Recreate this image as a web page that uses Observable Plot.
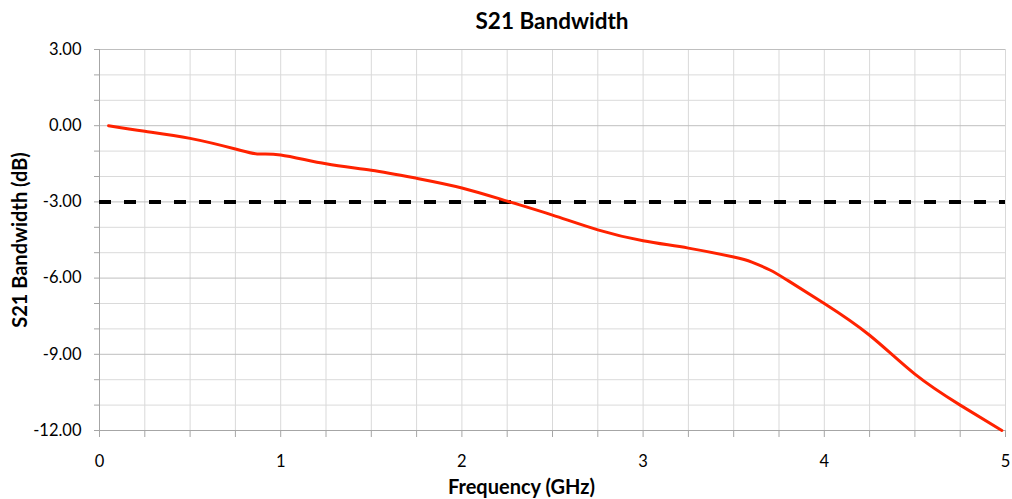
<!DOCTYPE html>
<html><head><meta charset="utf-8">
<script src="https://cdn.jsdelivr.net/npm/d3@7"></script>
<script src="https://cdn.jsdelivr.net/npm/@observablehq/plot@0.6"></script>
<style>
body{margin:0;background:#fff;font-family:Lato,"Open Sans",sans-serif;}
#title{width:1012px;height:38px;box-sizing:border-box;padding-left:92px;text-align:center;font-weight:bold;font-size:22.5px;line-height:42px;color:#000;}
</style></head>
<body>
<div id="title">S21 Bandwidth</div>
<div id="chart"></div>
<script>
// Data
const freq = [0.05, 0.25, 0.5, 0.75, 0.87, 1.0, 1.25, 1.5, 1.75, 2.0, 2.25, 2.5, 2.75, 3.0, 3.25, 3.5, 3.6, 3.7, 3.8, 4.0, 4.25, 4.5, 4.75, 4.98];
const s21 = [0, -0.22, -0.5, -0.92, -1.11, -1.15, -1.5, -1.75, -2.07, -2.45, -2.97, -3.52, -4.1, -4.53, -4.82, -5.17, -5.37, -5.68, -6.1, -7.0, -8.25, -9.78, -11.0, -12.0];
const threshold = [-3];
const yMajor = [3, 0, -3, -6, -9, -12];
const yMinor = [2, 1, -1, -2, -4, -5, -7, -8, -10, -11];
const xMajor = [0, 1, 2, 3, 4, 5];
const xMinor = [0, 0.25, 0.5, 0.75, 1, 1.25, 1.5, 1.75, 2, 2.25, 2.5, 2.75, 3, 3.25, 3.5, 3.75, 4, 4.25, 4.5, 4.75, 5];
const yTitle = "S21 Bandwidth (dB)";
const xTitle = "Frequency (GHz)";

const data = freq.map((f, i) => ({f, v: s21[i]}));

const chart = Plot.plot({
  width: 1012,
  height: 461,
  marginTop: 11,
  marginBottom: 69,
  marginLeft: 99,
  marginRight: 7,
  style: {fontFamily: "Lato, 'Open Sans', sans-serif", color: "#000", background: "#fff"},
  x: {domain: [0, 5]},
  y: {domain: [-12, 3]},
  marks: [
    Plot.ruleX(xMinor, {stroke: "#d9d9d9", strokeWidth: 1}),
    Plot.ruleY(yMinor, {stroke: "#dadada", strokeWidth: 1}),
    Plot.ruleY(yMajor, {stroke: "#bfbfbf", strokeWidth: 1}),
    Plot.ruleX([0], {stroke: "#a6a6a6", strokeWidth: 1}),
    Plot.ruleY([-12], {stroke: "#a6a6a6", strokeWidth: 1}),
    Plot.axisX({ticks: xMinor, tickSize: 7, tickFormat: () => "", stroke: "#a6a6a6", label: null}),
    Plot.axisY({ticks: yMajor.concat(yMinor), tickSize: 5, tickFormat: () => "", stroke: "#a6a6a6", label: null}),
    Plot.text(xMajor, {x: d => d, frameAnchor: "bottom", dy: 31, lineAnchor: "middle", text: d => String(d), fontSize: 16.5, fill: "#000"}),
    Plot.text(yMajor, {y: d => d, frameAnchor: "left", dx: -18, lineAnchor: "middle", textAnchor: "end", text: d => d.toFixed(2), fontSize: 16.5, fill: "#000"}),
    Plot.ruleY(threshold, {stroke: "#000", strokeWidth: 4, strokeDasharray: "12,13"}),
    Plot.line(data, {x: "f", y: "v", stroke: "#ff2200", strokeWidth: 3, curve: "natural"}),
    Plot.text([yTitle], {frameAnchor: "left", dx: -79, rotate: -90, textAnchor: "middle", lineAnchor: "middle", text: d => d, fontWeight: "bold", fontSize: 20}),
    Plot.text([xTitle], {frameAnchor: "bottom", dx: -31, dy: 57, textAnchor: "middle", lineAnchor: "middle", text: d => d, fontWeight: "bold", fontSize: 20})
  ]
});
document.getElementById("chart").appendChild(chart);
</script>
</body></html>
